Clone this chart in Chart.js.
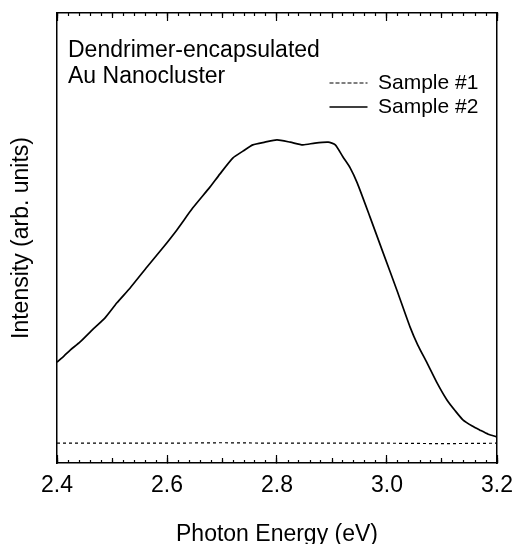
<!DOCTYPE html>
<html><head><meta charset="utf-8">
<script src="https://cdn.jsdelivr.net/npm/chart.js@4.4.1/dist/chart.umd.min.js"></script>
<style>html,body{margin:0;padding:0;background:#fff}canvas{display:block}</style>
</head><body>
<canvas id="c" width="514" height="544"></canvas>
<script>
// ---- data ----
const energy2 = [2.400,2.413,2.424,2.442,2.466,2.487,2.509,2.533,2.564,2.591,2.618,2.647,2.678,2.696,2.720,2.738,2.756,2.778,2.800,2.824,2.847,2.869,2.893,2.906,2.920,2.933,2.946,2.969,2.993,3.018,3.042,3.056,3.073,3.091,3.109,3.124,3.138,3.155,3.169,3.184,3.200];
const intensity2 = [0.224,0.238,0.251,0.269,0.298,0.322,0.356,0.389,0.436,0.476,0.518,0.567,0.613,0.642,0.678,0.693,0.707,0.713,0.718,0.713,0.707,0.711,0.713,0.707,0.680,0.656,0.622,0.547,0.467,0.384,0.302,0.262,0.222,0.178,0.140,0.116,0.096,0.082,0.073,0.064,0.058];
const energy1 = [2.4,2.5,2.6,2.7,2.8,2.9,3.0,3.1,3.2];
const intensity1 = [0.044,0.044,0.044,0.045,0.044,0.044,0.044,0.043,0.044];
const seriesNames = ['Sample #1','Sample #2'];
const noteLines = ['Dendrimer-encapsulated','Au Nanocluster'];
const xRange = [2.4, 3.2];
const xMajorStep = 0.2, xMidStep = 0.1, xMinorStep = 0.02;
const xTitle = 'Photon Energy (eV)';
const yTitle = 'Intensity (arb. units)';

const FONT = '"Liberation Sans", Arial, sans-serif';
const toPts = (xs, ys) => xs.map((x, i) => ({x, y: ys[i]}));

function tickAxis(position, step, len, showBorder) {
  return {
    type: 'linear', position, min: xRange[0], max: xRange[1], weight: 0,
    ticks: {display: false, stepSize: step, autoSkip: false},
    grid: {display: true, drawOnChartArea: false, drawTicks: true, tickLength: -len, tickColor: '#000', tickWidth: 1.2},
    border: {display: showBorder, color: '#000', width: 1.5},
    afterFit: s => { s.height = 0; }
  };
}

const notePlugin = {
  id: 'note',
  afterLayout(chart) {
    const lg = chart.legend;
    if (lg) {
      const p = lg.options.labels.padding;
      lg.left = 329.5 - p; lg.top = 72.5 - p;
      lg.right = lg.left + lg.width; lg.bottom = lg.top + lg.height;
    }
  },
  afterDraw(chart) {
    const ctx = chart.ctx;
    ctx.save();
    ctx.fillStyle = '#000';
    ctx.font = '23px ' + FONT;
    ctx.textBaseline = 'alphabetic';
    ctx.textAlign = 'left';
    ctx.fillText(noteLines[0], 68, 57);
    ctx.fillText(noteLines[1], 68, 83);
    ctx.restore();
  }
};

new Chart(document.getElementById('c'), {
  type: 'line',
  data: {
    datasets: [
      {label: seriesNames[0], data: toPts(energy1, intensity1), borderColor: '#000', backgroundColor: 'transparent', borderWidth: 1.2, borderDash: [3, 3], pointRadius: 0, tension: 0},
      {label: seriesNames[1], data: toPts(energy2, intensity2), borderColor: '#000', backgroundColor: 'transparent', borderWidth: 1.7, pointRadius: 0, tension: 0.2}
    ]
  },
  options: {
    responsive: false, animation: false, devicePixelRatio: 1,
    layout: {padding: {top: 13, right: 0, left: 0, bottom: 0}},
    scales: {
      x: {
        type: 'linear', position: 'bottom', min: xRange[0], max: xRange[1], weight: 1,
        ticks: {stepSize: xMajorStep, color: '#000', font: {family: FONT, size: 23}, padding: 17, maxRotation: 0, autoSkip: false,
                callback: v => Number(v).toFixed(1)},
        grid: {display: true, drawOnChartArea: false, drawTicks: true, tickLength: -8, tickColor: '#000', tickWidth: 1.2},
        border: {display: true, color: '#000', width: 1.5},
        title: {display: true, text: xTitle, color: '#000', font: {family: FONT, size: 23}, padding: {top: 0, bottom: -4}},
        afterFit: s => { s.height = 81; s.paddingLeft = 0; s.paddingRight = 17; }
      },
      xMid: tickAxis('bottom', xMidStep, 5, false),
      xMinor: tickAxis('bottom', xMinorStep, 3, false),
      xTop: tickAxis('top', xMajorStep, 8, true),
      xTopMid: tickAxis('top', xMidStep, 5, false),
      xTopMinor: tickAxis('top', xMinorStep, 3, false),
      y: {
        type: 'linear', position: 'left', min: 0, max: 1,
        ticks: {display: false},
        grid: {display: false},
        border: {display: true, color: '#000', width: 1.5},
        title: {display: true, text: yTitle, color: '#000', font: {family: FONT, size: 23}, padding: {top: 8, bottom: 0}},
        afterFit: s => { s.width = 57; }
      },
      y2: {
        type: 'linear', position: 'right', min: 0, max: 1,
        ticks: {display: false},
        grid: {display: false},
        border: {display: true, color: '#000', width: 1.5},
        afterFit: s => { s.width = 0; }
      }
    },
    plugins: {
      legend: {
        display: true, position: 'chartArea', align: 'start',
        labels: {boxWidth: 38, boxHeight: 0, padding: 3, color: '#000', font: {family: FONT, size: 21}}
      },
      tooltip: {enabled: false}
    }
  },
  plugins: [notePlugin]
});
</script>
</body></html>
